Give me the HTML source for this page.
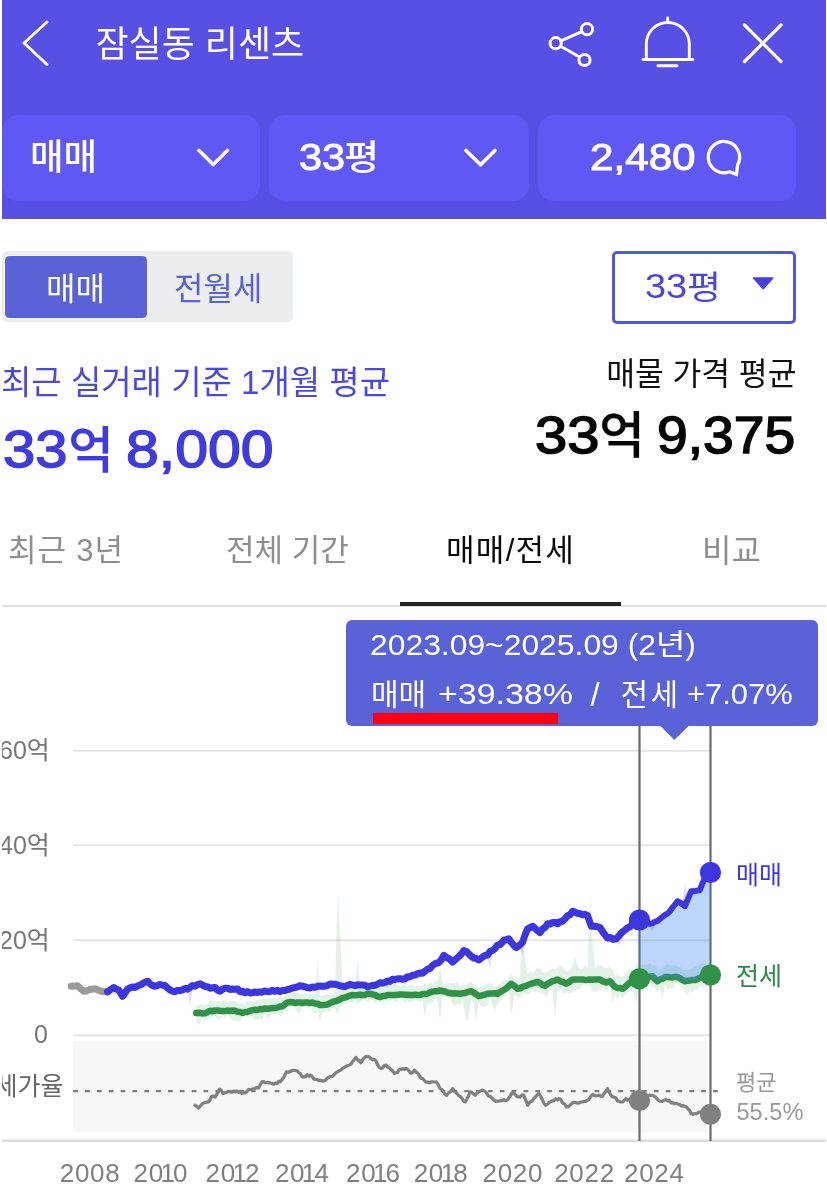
<!DOCTYPE html>
<html lang="ko">
<head>
<meta charset="utf-8">
<title>잠실동 리센츠</title>
<style>
html,body{margin:0;padding:0;background:#fff;}
body{width:827px;height:1196px;position:relative;overflow:hidden;font-family:"Liberation Sans","Noto Sans CJK KR","NanumGothic",sans-serif;}
.t{position:absolute;white-space:nowrap;line-height:1;margin:0;padding:0;}
.b{font-weight:bold;}
.m{font-weight:500;}
.sx{transform-origin:0 0;}
.grp{margin:0;padding:0;height:0;}
.xl{top:1160px;font-size:26px;color:#808080;letter-spacing:.7px;}
.one{margin:0 -2.6px 0 -3.4px;}
.abs{position:absolute;}
#hdr{left:2px;top:0;width:823.6px;height:218.6px;background:#5850e4;}
.pill{top:115px;height:86px;border-radius:16px;background:#6058f4;}
svg{position:absolute;left:0;top:0;overflow:visible;}
</style>
</head>
<body>
<!-- header -->
<div id="hdr" class="abs"></div>
<div class="abs pill" style="left:2px;width:258px"></div>
<div class="abs pill" style="left:269px;width:260px"></div>
<div class="abs pill" style="left:537.5px;width:258.5px"></div>

<div class="t" id="title" style="left:95.5px;top:26.5px;font-size:36px;color:#fff">잠실동 리센츠</div>
<div class="t m" id="p1" style="left:30px;top:139.5px;font-size:36.5px;color:#fff">매매</div>
<div class="grp"><span class="t sx" id="p2a" style="left:299px;top:139.5px;font-size:36px;color:#fff;transform:scaleX(1.15);-webkit-text-stroke:1px currentColor">33</span><span class="t m sx" id="p2b" style="left:344.3px;top:140px;font-size:35px;color:#fff;transform:scaleX(1.09)">평</span></div>
<div class="t sx" id="p3" style="left:589.5px;top:138.5px;font-size:37px;color:#fff;transform:scaleX(1.14);-webkit-text-stroke:1px currentColor">2,480</div>

<svg width="827" height="230" viewBox="0 0 827 230" fill="none" stroke="#fff" stroke-linecap="round" stroke-linejoin="round">
  <polyline points="47,22 24,43 47,64.5" stroke-width="3"/>
  <!-- share -->
  <g stroke-width="3">
    <circle cx="555.7" cy="43.2" r="5.6"/>
    <circle cx="587" cy="29.2" r="5.6"/>
    <circle cx="584.5" cy="60" r="5.6"/>
    <line x1="560.8" y1="40.8" x2="581.8" y2="31.6"/>
    <line x1="560.6" y1="46.2" x2="579.6" y2="57"/>
  </g>
  <!-- bell -->
  <g stroke-width="2.9">
    <path d="M646.3,59.5 V44 A21.5,21.5 0 0 1 689.3,44 V59.5"/>
    <line x1="643" y1="59.5" x2="692.8" y2="59.5"/>
    <line x1="667.7" y1="18" x2="667.7" y2="22"/>
    <line x1="658" y1="65.8" x2="677" y2="65.8"/>
  </g>
  <!-- close -->
  <g stroke-width="3.3">
    <line x1="744.5" y1="25" x2="781" y2="61.5"/>
    <line x1="781" y1="25" x2="744.5" y2="61.5"/>
  </g>
  <!-- chevrons -->
  <polyline points="199,150.5 213.2,164.5 227.4,150.5" stroke-width="3.6"/>
  <polyline points="466,150.5 480.5,164.8 495,150.5" stroke-width="3.6"/>
  <!-- chat bubble -->
  <path d="M737.7,164.6 A15.65,15.65 0 1 0 729.6,171.7 L736.4,174.4 Z" stroke-width="3.3" stroke-linejoin="miter"/>
</svg>

<!-- segmented tabs -->
<div class="abs" style="left:2px;top:250.5px;width:290.5px;height:71.5px;background:#ebedee;border-radius:5px"></div>
<div class="abs" style="left:4.5px;top:255.7px;width:142.4px;height:62.3px;background:#5a62d8;border-radius:4.5px;box-shadow:0 0 0 1px rgba(255,255,255,.55)"></div>
<div class="t" id="seg1" style="left:46px;top:272.5px;font-size:32px;color:#fff">매매</div>
<div class="t" id="seg2" style="left:174px;top:272.5px;font-size:32px;color:#5a62d2">전월세</div>

<!-- select -->
<div class="abs" style="left:611.5px;top:250.6px;width:184.5px;height:73.6px;box-sizing:border-box;border:3.9px solid #5058d7;border-radius:5px;background:#fff"></div>
<div class="grp"><span class="t sx" id="sela" style="left:645px;top:269px;font-size:34.5px;color:#4a45e0;transform:scaleX(1.1)">33</span><span class="t sx" id="selb" style="left:686.5px;top:270.5px;font-size:33px;color:#4a45e0;transform:scaleX(1.12)">평</span></div>
<svg width="827" height="400" viewBox="0 0 827 400"><path d="M753.6,278 H772.8 L763.2,288.6 Z" fill="#4540e0" stroke="#4540e0" stroke-width="1.6" stroke-linejoin="round"/></svg>

<!-- summary -->
<div class="t" id="lab1" style="left:1px;top:365.5px;font-size:33px;color:#4b49dc">최근 실거래 기준 1개월 평균</div>
<div class="grp"><span class="t sx" id="n1a" style="left:3px;top:423.5px;font-size:51px;color:#403be0;transform:scaleX(1.135);-webkit-text-stroke:1.45px currentColor">33</span><span class="t m" id="n1b" style="left:68.3px;top:425.5px;font-size:49.5px;color:#403be0;-webkit-text-stroke:0.25px currentColor">억</span> <span class="t sx" id="n1c" style="left:126px;top:423.5px;font-size:51px;color:#403be0;transform:scaleX(1.155);-webkit-text-stroke:1.45px currentColor">8,000</span></div>
<div class="t" id="lab2" style="left:606.3px;top:359px;font-size:31.3px;color:#111">매물 가격 평균</div>
<div class="grp"><span class="t sx" id="n2a" style="left:535px;top:410px;font-size:51px;color:#050505;transform:scaleX(1.135);-webkit-text-stroke:1.45px currentColor">33</span><span class="t m" id="n2b" style="left:599.3px;top:410.5px;font-size:49.5px;color:#050505;-webkit-text-stroke:0.25px currentColor">억</span> <span class="t sx" id="n2c" style="left:657px;top:410px;font-size:51px;color:#050505;transform:scaleX(1.083);-webkit-text-stroke:1.45px currentColor">9,375</span></div>

<!-- period tabs -->
<div class="t" id="tab1" style="left:8px;top:534.5px;font-size:31px;letter-spacing:.9px;color:#8e8e8e">최근 3년</div>
<div class="t" id="tab2" style="left:226px;top:534.5px;font-size:31px;color:#8e8e8e">전체 기간</div>
<div class="t" id="tab3" style="left:446px;top:534.5px;font-size:31px;letter-spacing:1.3px;color:#0a0a0a">매매/전세</div>
<div class="t" id="tab4" style="left:702px;top:534.5px;font-size:32px;color:#8e8e8e">비교</div>
<div class="abs" style="left:2px;top:605px;width:824px;height:2px;background:#dedede"></div>
<div class="abs" style="left:399.5px;top:602px;width:221px;height:4.3px;background:#222"></div>

<!-- chart -->
<svg width="827" height="1196" viewBox="0 0 827 1196">
  <!-- grid -->
  <g stroke="#e6e6e6" stroke-width="2">
    <line x1="73" y1="750.8" x2="711" y2="750.8"/>
    <line x1="73" y1="845.3" x2="711" y2="845.3"/>
    <line x1="73" y1="940.3" x2="711" y2="940.3"/>
    <line x1="73" y1="1035.2" x2="711" y2="1035.2"/>
  </g>
  <rect x="72.5" y="1041.3" width="635" height="91.2" fill="#f7f7f7"/>
  <line x1="2" y1="1140.7" x2="826" y2="1140.7" stroke="#dcdcdc" stroke-width="2.4"/>
  <line x1="73.2" y1="1091.1" x2="719" y2="1091.1" stroke="#7c7c7c" stroke-width="2.1" stroke-dasharray="4.7 7.15"/>
  <!-- bands -->
  <path d="M196.2,1004.9 L199.2,1004.6 L202.1,1003.7 L205.0,1006.0 L207.5,1003.9 L210.0,1000.0 L212.5,1000.5 L215.0,1001.2 L217.5,1001.3 L220.0,1001.7 L222.5,1001.1 L225.0,1000.8 L227.5,1002.5 L230.0,1000.4 L232.5,1001.0 L235.0,1001.0 L237.5,1002.9 L240.0,1003.4 L242.5,1002.6 L245.0,1004.6 L247.5,1000.8 L250.0,1001.3 L252.5,1001.3 L255.0,1001.5 L257.5,1000.3 L260.0,999.6 L262.5,998.8 L265.0,999.2 L267.5,998.3 L270.0,998.0 L272.5,998.4 L275.0,997.8 L277.5,999.2 L280.0,996.6 L282.5,998.7 L285.0,995.7 L287.5,994.2 L290.0,992.2 L292.5,993.1 L295.0,992.7 L297.5,992.1 L300.0,993.5 L302.5,994.2 L305.0,993.1 L307.5,994.6 L310.0,993.1 L312.5,995.1 L315.0,995.0 L317.5,958.5 L320.0,996.1 L322.5,995.3 L325.0,995.5 L327.5,993.9 L330.0,994.7 L332.5,994.3 L335.0,990.5 L337.5,893.0 L340.0,930.0 L342.5,991.2 L345.0,988.0 L347.5,987.2 L350.0,986.2 L352.5,985.3 L355.0,987.7 L357.5,960.0 L360.0,986.9 L362.5,985.7 L365.0,986.1 L367.5,985.6 L370.0,985.5 L372.5,984.6 L375.0,986.1 L377.5,987.9 L380.0,986.9 L382.5,988.6 L385.0,986.3 L387.5,987.1 L390.0,984.8 L392.5,984.6 L395.0,986.3 L397.5,984.2 L400.0,986.5 L402.5,985.5 L405.0,984.6 L407.5,987.0 L410.0,984.9 L412.5,984.9 L415.0,987.3 L417.5,984.9 L420.0,986.6 L422.5,985.7 L425.0,983.2 L427.5,985.9 L430.0,982.1 L432.5,983.2 L435.0,981.0 L437.5,981.1 L440.0,967.0 L442.5,982.9 L445.0,983.7 L447.5,983.1 L450.0,982.9 L452.5,982.7 L455.0,982.8 L457.5,983.1 L460.0,986.5 L462.8,985.3 L465.6,985.0 L468.4,983.2 L471.2,981.8 L473.8,984.8 L476.2,985.7 L478.8,987.8 L481.7,986.3 L484.6,986.8 L487.5,983.2 L490.0,983.6 L492.5,984.3 L495.0,986.4 L497.5,985.6 L500.6,983.2 L503.8,980.0 L506.2,980.5 L508.8,978.2 L511.2,973.0 L514.4,978.7 L517.5,980.4 L520.0,975.7 L522.5,916.0 L525.0,960.0 L527.5,974.4 L530.0,970.4 L532.5,972.9 L535.0,970.5 L537.5,967.5 L540.0,968.7 L542.5,971.9 L545.0,972.8 L547.5,971.5 L550.0,969.7 L552.5,968.3 L555.0,969.7 L557.5,966.9 L560.4,965.6 L563.3,967.3 L566.2,972.0 L569.4,970.6 L572.5,965.7 L575.0,956.0 L577.5,965.3 L580.0,968.6 L582.5,969.1 L585.0,965.1 L587.5,968.6 L590.0,895.0 L592.5,945.0 L595.0,968.5 L597.5,965.6 L600.0,964.1 L603.1,966.4 L606.2,968.1 L610.0,967.1 L612.5,969.8 L615.0,976.3 L617.5,974.3 L620.0,976.5 L622.5,977.1 L625.0,972.3 L627.5,972.3 L630.0,970.3 L633.2,970.4 L636.3,964.5 L639.5,964.5 L642.1,965.3 L644.7,964.9 L647.3,965.3 L649.9,962.8 L652.5,966.2 L655.0,964.8 L657.5,969.5 L660.0,969.3 L662.5,967.9 L665.0,965.9 L667.5,964.1 L670.0,966.0 L672.5,965.4 L675.0,964.6 L677.5,966.4 L680.0,966.5 L682.5,969.4 L685.0,970.1 L687.5,970.6 L690.0,968.7 L692.5,968.5 L695.0,966.5 L697.5,966.8 L700.0,963.8 L702.5,963.1 L705.2,964.0 L707.8,964.7 L710.5,962.2 L710.5,988.1 L707.8,986.4 L705.2,982.4 L702.5,989.4 L700.0,985.6 L697.5,989.7 L695.0,989.5 L692.5,992.3 L690.0,990.5 L687.5,994.4 L685.0,992.7 L682.5,987.6 L680.0,986.4 L677.5,981.7 L675.0,983.9 L672.5,989.2 L670.0,987.8 L667.5,990.1 L665.0,983.6 L662.5,1000.0 L660.0,986.7 L657.5,992.2 L655.0,987.9 L652.5,987.5 L649.9,982.6 L647.3,987.5 L644.7,986.9 L642.1,989.6 L639.5,984.7 L636.3,1003.0 L633.2,990.3 L630.0,990.8 L627.5,992.7 L625.0,994.7 L622.5,998.8 L620.0,994.3 L617.5,999.5 L615.0,994.4 L612.5,1004.0 L610.0,986.7 L606.2,991.6 L603.1,985.8 L600.0,989.2 L597.5,991.5 L595.0,991.6 L592.5,991.6 L590.0,985.6 L587.5,984.9 L585.0,984.4 L582.5,985.3 L580.0,989.3 L577.5,989.1 L575.0,990.0 L572.5,992.0 L569.4,993.4 L566.2,992.4 L563.3,994.0 L560.4,988.8 L557.5,991.9 L555.0,1017.5 L552.5,992.3 L550.0,989.2 L547.5,994.9 L545.0,996.6 L542.5,992.4 L540.0,993.4 L537.5,989.9 L535.0,992.8 L532.5,989.8 L530.0,992.5 L527.5,994.9 L525.0,993.7 L522.5,994.8 L520.0,998.2 L517.5,996.1 L514.4,995.3 L511.2,1016.0 L508.8,990.9 L506.2,993.6 L503.8,994.5 L500.6,1000.6 L497.5,1003.0 L495.0,1010.0 L492.5,1006.0 L490.0,998.3 L487.5,1005.5 L484.6,1006.2 L481.7,1007.3 L478.8,1002.5 L476.2,1021.0 L473.8,1005.2 L471.2,998.8 L468.4,1020.0 L465.6,1020.0 L462.8,1000.3 L460.0,1005.0 L457.5,1003.3 L455.0,1005.9 L452.5,1003.9 L450.0,997.9 L447.5,997.9 L445.0,995.7 L442.5,997.0 L440.0,1020.0 L437.5,1000.4 L435.0,996.6 L432.5,1002.2 L430.0,1002.9 L427.5,1003.2 L425.0,1017.0 L422.5,1000.7 L420.0,1001.4 L417.5,1000.4 L415.0,1000.5 L412.5,1000.9 L410.0,1003.0 L407.5,1000.3 L405.0,1004.1 L402.5,999.5 L400.0,998.8 L397.5,1001.3 L395.0,1002.8 L392.5,999.6 L390.0,1001.6 L387.5,1001.3 L385.0,1000.2 L382.5,1003.0 L380.0,1002.2 L377.5,1001.2 L375.0,1004.0 L372.5,998.3 L370.0,999.9 L367.5,1001.8 L365.0,1000.3 L362.5,1000.7 L360.0,1001.7 L357.5,1005.2 L355.0,998.9 L352.5,1003.7 L350.0,1001.8 L347.5,1003.4 L345.0,1001.4 L342.5,1006.2 L340.0,1006.9 L337.5,1015.0 L335.0,1008.4 L332.5,1007.9 L330.0,1012.0 L327.5,1011.5 L325.0,1012.5 L322.5,1012.5 L320.0,1022.0 L317.5,1010.3 L315.0,1013.5 L312.5,1012.1 L310.0,1007.1 L307.5,1008.9 L305.0,1006.2 L302.5,1006.5 L300.0,1013.0 L297.5,1012.9 L295.0,1008.3 L292.5,1006.3 L290.0,1006.3 L287.5,1011.4 L285.0,1008.9 L282.5,1015.4 L280.0,1017.3 L277.5,1011.4 L275.0,1015.5 L272.5,1013.2 L270.0,1015.9 L267.5,1018.9 L265.0,1013.5 L262.5,1019.5 L260.0,1019.3 L257.5,1019.5 L255.0,1020.0 L252.5,1016.6 L250.0,1016.4 L247.5,1018.1 L245.0,1014.0 L242.5,1017.2 L240.0,1022.3 L237.5,1020.6 L235.0,1020.7 L232.5,1020.4 L230.0,1017.6 L227.5,1014.5 L225.0,1018.4 L222.5,1014.7 L220.0,1019.4 L217.5,1020.3 L215.0,1015.3 L212.5,1017.6 L210.0,1017.5 L207.5,1017.1 L205.0,1022.6 L202.1,1017.1 L199.2,1025.0 L196.2,1020.3Z" fill="#2e9548" fill-opacity="0.13"/>
  <path d="M107.5,990.2 L110.6,987.9 L113.8,985.9 L116.2,987.5 L118.8,988.2 L122.5,994.5 L125.0,991.3 L127.5,987.7 L130.0,987.5 L132.5,986.7 L135.0,985.8 L138.1,984.3 L141.2,982.9 L144.4,981.7 L147.5,979.9 L150.6,982.0 L153.8,984.9 L156.9,983.9 L160.0,983.2 L162.5,983.4 L165.0,983.8 L167.5,986.3 L170.0,988.7 L172.5,989.5 L175.0,990.5 L177.5,989.8 L180.0,988.9 L182.5,988.6 L185.0,987.5 L187.5,986.5 L190.0,985.9 L192.5,985.3 L195.0,984.1 L197.5,983.3 L200.0,983.4 L202.5,983.7 L205.0,984.3 L207.5,985.8 L210.0,986.7 L212.5,986.6 L215.0,985.8 L217.5,988.2 L220.0,990.0 L222.5,988.7 L225.0,987.8 L227.5,986.7 L230.0,987.2 L232.5,987.7 L235.0,987.6 L237.5,988.6 L240.0,988.8 L242.5,989.8 L245.0,990.3 L247.5,990.9 L250.0,991.8 L252.5,991.6 L255.0,991.0 L257.5,990.9 L260.6,990.6 L263.7,990.6 L266.8,990.2 L269.5,990.0 L272.2,989.5 L275.0,989.5 L277.5,989.6 L280.0,989.4 L282.5,989.2 L285.0,989.1 L287.5,987.9 L290.0,987.3 L292.5,986.7 L295.0,985.9 L297.5,985.7 L300.0,985.0 L302.5,984.7 L305.0,985.0 L307.5,985.3 L310.0,985.2 L312.5,985.6 L315.0,985.2 L317.5,985.4 L320.0,985.1 L322.5,984.8 L325.0,984.2 L327.5,983.8 L330.0,983.1 L332.5,982.8 L335.0,983.0 L337.5,983.5 L340.0,984.2 L342.5,985.0 L345.0,984.2 L347.5,984.0 L350.0,983.7 L352.5,983.3 L355.0,983.4 L357.5,983.4 L360.0,983.4 L362.5,983.8 L365.0,984.4 L367.5,985.4 L370.0,984.5 L372.5,984.0 L375.0,983.6 L377.5,982.9 L380.0,982.4 L382.5,979.6 L385.0,978.8 L387.5,978.6 L390.0,978.2 L392.5,977.1 L395.0,976.5 L397.5,976.0 L400.0,975.5 L402.5,975.4 L405.0,975.1 L407.5,973.9 L410.0,972.9 L412.5,972.6 L415.0,971.4 L417.5,969.9 L420.0,969.5 L422.5,968.1 L425.0,968.3 L427.5,965.7 L430.0,963.7 L432.5,962.2 L435.6,960.9 L438.8,958.3 L441.2,954.9 L443.8,951.9 L446.7,953.5 L449.6,956.5 L452.5,957.8 L456.2,955.5 L458.8,953.0 L461.2,949.8 L463.8,946.6 L466.2,949.6 L468.8,951.2 L471.2,952.4 L473.8,954.3 L476.2,954.6 L478.8,956.3 L481.7,954.6 L484.6,952.8 L487.5,951.1 L490.0,949.0 L492.5,946.8 L495.0,944.0 L497.5,941.2 L500.3,940.6 L503.1,938.4 L505.9,936.3 L508.8,935.9 L511.2,938.3 L513.8,940.8 L516.2,944.0 L519.4,941.7 L522.5,938.5 L525.0,932.4 L527.5,925.9 L530.0,923.7 L532.5,923.0 L535.0,924.3 L537.5,926.9 L540.0,929.0 L542.5,926.6 L545.0,922.7 L547.5,920.6 L550.0,919.2 L552.5,919.7 L555.0,919.0 L557.5,920.0 L560.0,918.1 L562.5,916.7 L565.0,915.0 L567.5,913.0 L570.0,910.7 L572.5,907.9 L575.0,908.4 L577.5,910.0 L580.0,910.8 L582.5,910.7 L585.0,910.9 L587.5,912.1 L591.2,922.6 L594.2,922.6 L597.1,924.2 L600.0,924.5 L602.5,927.5 L605.0,930.9 L607.5,934.8 L610.4,935.1 L613.3,935.0 L616.2,935.6 L619.2,932.0 L622.1,929.1 L625.0,927.1 L627.5,925.0 L630.0,922.2 L632.5,919.7 L636.0,918.6 L639.5,917.2 L642.1,918.1 L644.8,917.7 L647.4,919.7 L650.0,919.6 L652.5,919.0 L655.0,918.4 L657.5,918.1 L660.0,915.6 L662.5,913.9 L665.0,911.3 L667.5,909.3 L670.0,907.3 L672.5,904.3 L675.0,900.7 L677.5,898.3 L680.0,899.8 L682.5,900.5 L685.0,885.0 L688.1,895.3 L691.2,887.6 L694.2,887.4 L697.1,887.4 L700.0,886.7 L702.5,879.7 L705.0,874.3 L707.8,872.0 L710.5,869.4 L710.5,876.4 L707.8,878.1 L705.0,880.6 L702.5,886.4 L700.0,893.5 L697.1,893.1 L694.2,893.2 L691.2,895.0 L688.1,904.3 L685.0,908.3 L682.5,908.5 L680.0,905.1 L677.5,903.4 L675.0,908.2 L672.5,912.2 L670.0,915.3 L667.5,917.0 L665.0,919.8 L662.5,919.8 L660.0,922.6 L657.5,924.6 L655.0,925.5 L652.5,932.0 L650.0,928.4 L647.4,925.3 L644.8,926.6 L642.1,923.5 L639.5,924.9 L636.0,927.1 L632.5,927.7 L630.0,928.8 L627.5,930.4 L625.0,934.7 L622.1,937.5 L619.2,945.0 L616.2,942.2 L613.3,941.0 L610.4,943.3 L607.5,942.2 L605.0,939.0 L602.5,936.6 L600.0,932.0 L597.1,931.9 L594.2,930.2 L591.2,930.2 L587.5,918.8 L585.0,917.5 L582.5,919.3 L580.0,916.0 L577.5,916.4 L575.0,914.3 L572.5,913.9 L570.0,918.2 L567.5,921.9 L565.0,921.3 L562.5,926.2 L560.0,925.0 L557.5,925.9 L555.0,929.1 L552.5,927.4 L550.0,927.8 L547.5,929.0 L545.0,928.9 L542.5,933.9 L540.0,935.8 L537.5,934.6 L535.0,930.9 L532.5,931.4 L530.0,931.2 L527.5,934.1 L525.0,940.9 L522.5,954.0 L519.4,948.6 L516.2,953.1 L513.8,949.1 L511.2,946.0 L508.8,943.9 L505.9,944.5 L503.1,947.5 L500.3,946.4 L497.5,949.4 L495.0,950.9 L492.5,954.1 L490.0,968.0 L487.5,958.2 L484.6,959.1 L481.7,962.7 L478.8,963.9 L476.2,961.9 L473.8,960.1 L471.2,959.2 L468.8,960.1 L466.2,956.5 L463.8,955.8 L461.2,956.4 L458.8,960.5 L456.2,962.7 L452.5,966.0 L449.6,963.1 L446.7,961.7 L443.8,958.5 L441.2,964.7 L438.8,966.0 L435.6,967.2 L432.5,969.2 L430.0,973.0 L427.5,971.9 L425.0,975.5 L422.5,974.2 L420.0,976.5 L417.5,979.9 L415.0,979.3 L412.5,978.5 L410.0,981.4 L407.5,981.5 L405.0,984.6 L402.5,982.3 L400.0,981.5 L397.5,981.5 L395.0,987.0 L392.5,983.9 L390.0,984.6 L387.5,987.4 L385.0,986.9 L382.5,986.6 L380.0,984.5 L377.5,985.3 L375.0,985.8 L372.5,986.6 L370.0,986.9 L367.5,988.5 L365.0,987.6 L362.5,986.0 L360.0,986.8 L357.5,986.9 L355.0,986.4 L352.5,986.6 L350.0,986.3 L347.5,987.5 L345.0,987.4 L342.5,988.3 L340.0,987.3 L337.5,987.4 L335.0,986.5 L332.5,986.3 L330.0,986.7 L327.5,987.0 L325.0,987.7 L322.5,988.2 L320.0,988.2 L317.5,988.2 L315.0,988.4 L312.5,989.2 L310.0,988.6 L307.5,988.1 L305.0,988.2 L302.5,988.1 L300.0,988.5 L297.5,989.1 L295.0,989.6 L292.5,989.2 L290.0,990.1 L287.5,991.4 L285.0,992.7 L282.5,991.7 L280.0,992.1 L277.5,992.9 L275.0,992.7 L272.2,993.4 L269.5,992.8 L266.8,993.5 L263.7,993.2 L260.6,994.1 L257.5,994.7 L255.0,993.6 L252.5,994.3 L250.0,995.1 L247.5,993.8 L245.0,993.8 L242.5,992.4 L240.0,992.1 L237.5,990.7 L235.0,991.5 L232.5,989.9 L230.0,989.6 L227.5,989.5 L225.0,991.4 L222.5,992.4 L220.0,992.5 L217.5,991.5 L215.0,989.5 L212.5,989.7 L210.0,990.2 L207.5,988.4 L205.0,988.2 L202.5,986.9 L200.0,986.9 L197.5,985.3 L195.0,987.1 L192.5,988.4 L190.0,1007.0 L187.5,989.1 L185.0,990.0 L182.5,991.5 L180.0,992.1 L177.5,992.4 L175.0,993.5 L172.5,992.5 L170.0,990.8 L167.5,988.7 L165.0,986.7 L162.5,987.2 L160.0,986.7 L156.9,987.1 L153.8,988.4 L150.6,985.8 L147.5,982.3 L144.4,984.9 L141.2,985.4 L138.1,987.0 L135.0,988.5 L132.5,990.2 L130.0,989.7 L127.5,990.9 L125.0,993.9 L122.5,997.2 L118.8,991.7 L116.2,990.2 L113.8,989.6 L110.6,991.8 L107.5,993.6Z" fill="#3a36e0" fill-opacity="0.16"/>
  <!-- vertical selection lines -->
  <line x1="639.5" y1="724" x2="639.5" y2="1141" stroke="#6a6a6a" stroke-width="2.2"/>
  <line x1="710.5" y1="724" x2="710.5" y2="1141" stroke="#6a6a6a" stroke-width="2.2"/>
  <!-- lines -->
  <g fill="none" stroke-linecap="round" stroke-linejoin="round">
    <path d="M195.1,1105.3 L196.8,1106.3 L198.4,1108.0 L200.1,1106.3 L201.7,1104.5 L203.4,1103.0 L205.1,1102.5 L206.8,1102.1 L208.5,1102.0 L210.2,1099.5 L211.8,1096.3 L213.5,1096.1 L215.2,1097.0 L217.3,1093.4 L219.5,1089.2 L221.2,1090.3 L222.9,1093.6 L224.7,1092.7 L226.6,1092.4 L228.4,1091.5 L230.2,1091.9 L231.9,1092.2 L233.6,1091.0 L235.2,1091.8 L236.9,1090.9 L238.6,1092.4 L240.2,1091.4 L241.9,1093.3 L243.6,1092.9 L245.3,1092.8 L246.9,1091.6 L248.6,1089.4 L250.3,1089.6 L252.0,1089.2 L253.7,1089.2 L255.3,1088.1 L257.0,1087.6 L258.7,1087.9 L260.4,1084.5 L262.0,1081.9 L263.7,1081.6 L265.4,1083.0 L267.0,1082.3 L268.7,1082.9 L270.4,1082.9 L272.1,1083.5 L273.7,1084.2 L275.4,1082.9 L277.1,1083.5 L278.8,1081.2 L280.4,1081.9 L282.1,1079.5 L284.3,1076.4 L286.5,1071.8 L288.3,1072.3 L290.1,1071.5 L291.9,1070.7 L293.6,1070.4 L295.4,1070.5 L297.2,1070.8 L298.9,1072.7 L300.5,1073.8 L302.2,1076.8 L303.9,1076.9 L305.6,1076.7 L307.2,1074.8 L308.9,1076.3 L310.6,1075.2 L312.3,1076.6 L313.9,1079.0 L315.6,1079.5 L317.3,1079.7 L319.0,1080.7 L320.6,1080.2 L322.3,1080.9 L324.0,1080.9 L325.7,1080.0 L327.4,1078.0 L329.0,1077.3 L330.7,1076.6 L332.4,1076.2 L334.1,1074.5 L335.7,1073.0 L337.4,1071.8 L339.1,1070.8 L340.8,1070.0 L342.4,1068.4 L344.1,1067.5 L345.8,1066.3 L347.4,1065.9 L349.1,1065.1 L350.8,1064.2 L352.5,1061.9 L354.1,1059.7 L355.8,1057.4 L357.5,1059.9 L359.1,1060.4 L360.8,1062.8 L362.5,1059.9 L364.2,1057.8 L365.9,1056.7 L367.6,1056.4 L369.2,1056.7 L370.9,1058.6 L372.5,1059.8 L374.2,1059.4 L375.9,1060.8 L377.5,1064.4 L379.2,1067.2 L380.9,1068.5 L382.6,1068.0 L384.3,1065.5 L386.0,1065.1 L387.7,1067.1 L389.3,1067.9 L391.0,1069.4 L392.6,1070.7 L394.3,1073.5 L396.0,1072.6 L397.6,1072.4 L399.3,1069.6 L401.0,1069.5 L402.7,1068.7 L404.4,1069.3 L406.0,1068.5 L407.7,1069.5 L409.4,1071.4 L411.1,1073.5 L412.8,1072.3 L414.4,1070.1 L416.1,1072.1 L417.8,1073.3 L419.4,1075.4 L421.1,1078.5 L422.8,1078.7 L424.5,1080.6 L426.1,1082.1 L427.8,1082.0 L429.5,1082.9 L431.2,1081.8 L432.9,1081.8 L434.5,1082.0 L436.2,1081.9 L438.1,1084.4 L440.0,1088.6 L441.7,1089.4 L443.4,1091.8 L445.0,1094.4 L446.7,1095.3 L448.7,1092.5 L450.7,1091.7 L452.7,1088.6 L454.6,1091.7 L456.5,1092.9 L458.4,1095.3 L460.1,1096.4 L461.8,1098.0 L463.4,1100.7 L465.1,1102.0 L466.8,1099.3 L468.4,1096.1 L470.1,1091.9 L471.8,1092.4 L473.5,1094.0 L475.2,1095.3 L476.9,1093.0 L478.5,1092.3 L480.2,1091.0 L481.9,1090.2 L483.6,1090.5 L485.2,1091.5 L486.9,1093.6 L488.6,1096.2 L490.3,1096.3 L491.9,1098.2 L493.6,1099.8 L495.3,1101.3 L497.0,1101.1 L498.6,1101.2 L500.3,1100.9 L502.0,1100.7 L503.7,1099.7 L505.3,1100.7 L507.0,1100.3 L508.7,1098.2 L510.3,1095.9 L512.0,1092.9 L513.7,1093.5 L515.4,1094.8 L517.0,1096.6 L518.7,1096.9 L520.4,1096.9 L522.0,1094.8 L523.7,1095.3 L525.7,1099.9 L527.7,1105.3 L529.7,1102.3 L531.8,1101.3 L533.8,1098.6 L535.5,1096.7 L537.1,1095.0 L538.8,1093.6 L540.5,1095.9 L542.1,1099.3 L543.8,1102.9 L545.5,1105.3 L547.2,1104.5 L548.9,1102.5 L550.5,1101.8 L552.2,1101.0 L553.9,1100.7 L555.5,1098.8 L557.2,1100.1 L558.9,1098.6 L560.8,1099.7 L562.8,1103.1 L564.7,1104.1 L566.6,1107.0 L568.5,1106.7 L570.4,1104.8 L572.3,1103.0 L574.0,1102.2 L575.7,1102.6 L577.3,1103.2 L579.0,1103.0 L580.7,1102.0 L582.4,1101.9 L584.0,1101.5 L585.7,1101.3 L587.4,1100.3 L589.1,1099.3 L590.7,1096.5 L592.4,1094.6 L594.1,1095.1 L595.7,1095.8 L597.4,1095.5 L599.1,1095.1 L600.7,1096.2 L602.4,1096.3 L604.1,1093.4 L605.7,1091.6 L607.4,1088.6 L609.1,1091.9 L610.8,1095.0 L612.5,1096.9 L614.2,1097.1 L615.8,1097.9 L617.5,1100.9 L619.1,1101.5 L620.8,1102.0 L622.5,1102.0 L624.2,1100.4 L625.9,1098.6 L627.6,1100.3 L629.2,1099.2 L630.9,1099.9 L632.6,1101.3 L634.3,1101.3 L636.0,1101.5 L637.8,1099.9 L639.5,1100.5 L641.1,1100.7 L642.8,1098.4 L644.4,1097.6 L646.1,1097.4 L647.7,1096.1 L649.4,1095.1 L651.0,1095.3 L652.7,1095.4 L654.3,1096.3 L656.0,1097.5 L657.7,1099.7 L659.3,1100.9 L661.0,1101.3 L662.7,1101.3 L664.3,1100.0 L666.0,1099.6 L667.7,1101.0 L669.4,1100.4 L671.0,1102.8 L672.7,1102.6 L674.4,1103.6 L676.1,1103.2 L677.8,1104.2 L679.5,1104.3 L681.1,1105.9 L682.8,1105.6 L684.5,1106.3 L686.2,1106.8 L687.8,1108.8 L689.5,1110.2 L691.1,1113.7 L692.8,1114.3 L694.5,1113.5 L696.1,1113.8 L697.8,1112.8 L699.5,1112.0 L701.3,1112.2 L703.2,1113.3 L705.0,1113.3 L706.8,1112.5 L708.7,1115.0 L710.5,1114.3" stroke="#808080" stroke-width="3.2"/>
    <path d="M196.2,1013.0 L199.2,1012.7 L202.1,1013.4 L205.0,1013.2 L207.5,1012.2 L210.0,1010.8 L212.5,1011.2 L215.0,1010.5 L217.5,1010.5 L220.0,1010.8 L222.5,1011.0 L225.0,1010.9 L227.5,1010.6 L230.0,1010.9 L232.5,1010.6 L235.0,1010.8 L237.5,1011.8 L240.0,1011.9 L242.5,1013.0 L245.0,1012.0 L247.5,1011.9 L250.0,1010.8 L252.5,1010.2 L255.0,1009.8 L257.5,1009.9 L260.0,1009.2 L262.5,1009.2 L265.0,1008.5 L267.5,1008.7 L270.0,1008.6 L272.5,1007.9 L275.0,1008.0 L277.5,1007.6 L280.0,1006.5 L282.5,1006.2 L285.0,1004.2 L287.5,1002.5 L290.0,1002.1 L292.5,1002.2 L295.0,1003.0 L297.5,1002.4 L300.0,1002.5 L302.5,1003.0 L305.0,1002.4 L307.5,1002.6 L310.0,1002.9 L312.5,1002.5 L315.0,1003.5 L317.5,1003.8 L320.0,1005.0 L322.5,1004.9 L325.0,1004.8 L327.5,1004.5 L330.0,1003.1 L332.5,1001.9 L335.0,1001.2 L337.5,1000.7 L340.0,999.4 L342.5,998.1 L345.0,997.5 L347.5,996.6 L350.0,995.6 L352.5,995.0 L355.0,995.3 L357.5,995.0 L360.0,994.6 L362.5,995.0 L365.0,994.9 L367.5,993.8 L370.0,993.8 L372.5,994.3 L375.0,994.9 L377.5,996.4 L380.0,997.0 L382.5,996.1 L385.0,996.0 L387.5,995.1 L390.0,995.0 L392.5,994.9 L395.0,994.9 L397.5,994.7 L400.0,994.5 L402.5,994.6 L405.0,994.7 L407.5,994.8 L410.0,995.0 L412.5,995.1 L415.0,994.6 L417.5,995.0 L420.0,995.0 L422.5,994.1 L425.0,994.1 L427.5,993.6 L430.0,992.5 L432.5,991.6 L435.0,991.1 L437.5,991.2 L440.0,990.5 L442.5,991.2 L445.0,991.3 L447.5,992.6 L450.0,993.0 L452.5,993.6 L455.0,993.3 L457.5,993.4 L460.0,993.8 L462.8,993.2 L465.6,992.9 L468.4,991.6 L471.2,991.2 L473.8,992.7 L476.2,994.3 L478.8,996.2 L481.7,995.5 L484.6,994.6 L487.5,993.8 L490.0,993.5 L492.5,993.6 L495.0,993.3 L497.5,993.8 L500.6,991.7 L503.8,990.0 L506.2,988.4 L508.8,985.9 L511.2,983.8 L514.4,986.0 L517.5,988.8 L520.0,988.4 L522.5,986.9 L525.0,986.2 L527.5,985.2 L530.0,984.1 L532.5,983.3 L535.0,982.5 L537.5,982.0 L540.0,983.0 L542.5,984.9 L545.0,985.8 L547.5,983.9 L550.0,982.5 L552.5,981.2 L555.0,980.6 L557.5,979.5 L560.4,981.3 L563.3,982.1 L566.2,983.8 L569.4,981.9 L572.5,979.5 L575.0,979.4 L577.5,979.6 L580.0,979.6 L582.5,979.5 L585.0,979.9 L587.5,979.8 L590.0,979.5 L592.5,979.8 L595.0,979.4 L597.5,979.4 L600.0,979.5 L603.1,981.5 L606.2,982.5 L610.0,981.2 L612.5,984.2 L615.0,987.0 L617.5,987.9 L620.0,988.0 L622.5,988.8 L625.0,987.1 L627.5,984.7 L630.0,982.5 L633.2,981.0 L636.3,980.4 L639.5,978.8" stroke="#2f9247" stroke-width="6.5"/>
    <path d="M639.5,978.8 L642.1,978.6 L644.7,977.4 L647.3,977.4 L649.9,976.5 L652.5,976.2 L655.0,979.1 L657.5,981.2 L660.0,979.4 L662.5,978.7 L665.0,977.0 L667.5,977.1 L670.0,977.3 L672.5,977.4 L675.0,976.8 L677.5,977.0 L680.0,978.3 L682.5,980.0 L685.0,981.2 L687.5,980.8 L690.0,980.4 L692.5,980.1 L695.0,980.0 L697.5,979.0 L700.0,977.8 L702.5,976.2 L705.2,976.1 L707.8,975.2 L710.5,975.0" stroke="#2f9247" stroke-width="6.5"/>
  </g>
  <!-- selected fill -->
  <path d="M639.5,920.0 L642.1,920.6 L644.8,922.1 L647.4,923.1 L650.0,923.8 L652.5,923.4 L655.0,921.6 L657.5,921.2 L660.0,918.9 L662.5,916.8 L665.0,914.9 L667.5,913.6 L670.0,911.2 L672.5,907.4 L675.0,904.6 L677.5,901.2 L680.0,902.5 L682.5,904.3 L685.0,906.2 L688.1,898.7 L691.2,891.2 L694.2,891.3 L697.1,890.6 L700.0,890.0 L702.5,883.1 L705.0,877.5 L707.8,874.7 L710.5,872.5 L710.5,975.0 L707.8,975.2 L705.2,976.1 L702.5,976.2 L700.0,977.8 L697.5,979.0 L695.0,980.0 L692.5,980.1 L690.0,980.4 L687.5,980.8 L685.0,981.2 L682.5,980.0 L680.0,978.3 L677.5,977.0 L675.0,976.8 L672.5,977.4 L670.0,977.3 L667.5,977.1 L665.0,977.0 L662.5,978.7 L660.0,979.4 L657.5,981.2 L655.0,979.1 L652.5,976.2 L649.9,976.5 L647.3,977.4 L644.7,977.4 L642.1,978.6 L639.5,978.8Z" fill="#4285f4" fill-opacity="0.35"/>
  <g fill="none" stroke-linecap="round" stroke-linejoin="round">
    <path d="M71.2,986.2 L74.4,986.0 L77.5,985.8 L80.6,988.6 L83.8,991.2 L86.2,991.0 L88.8,989.9 L91.2,989.2 L95.0,988.8 L98.1,990.0 L101.2,991.2 L104.4,991.6 L107.5,991.8" stroke="#9a9a9a" stroke-width="7"/>
    <path d="M107.5,991.8 L110.6,989.6 L113.8,987.5 L116.2,989.1 L118.8,990.0 L122.5,996.2 L125.0,993.1 L127.5,989.2 L130.0,987.9 L132.5,987.0 L135.0,987.5 L138.1,985.7 L141.2,984.5 L144.4,982.4 L147.5,981.2 L150.6,984.4 L153.8,986.2 L156.9,985.8 L160.0,984.5 L162.5,985.2 L165.0,985.5 L167.5,987.9 L170.0,990.0 L172.5,991.2 L175.0,991.8 L177.5,990.4 L180.0,990.5 L182.5,990.0 L185.0,988.4 L187.5,989.2 L190.0,987.5 L192.5,985.5 L195.0,986.2 L197.5,984.5 L200.0,983.8 L202.5,985.0 L205.0,986.5 L207.5,986.8 L210.0,988.2 L212.5,987.7 L215.0,987.5 L217.5,990.1 L220.0,991.2 L222.5,989.2 L225.0,988.3 L227.5,988.2 L230.0,989.5 L232.5,988.9 L235.0,989.2 L237.5,989.0 L240.0,991.7 L242.5,991.2 L245.0,992.8 L247.5,991.6 L250.0,993.0 L252.5,992.7 L255.0,991.9 L257.5,992.5 L259.8,991.8 L262.1,992.3 L264.4,991.0 L266.8,991.5 L269.5,991.8 L272.2,990.3 L275.0,991.2 L277.5,990.3 L280.0,991.6 L282.5,990.5 L285.0,990.5 L287.5,989.5 L290.0,989.0 L292.5,988.0 L295.0,987.5 L297.5,986.9 L300.0,985.7 L302.5,986.2 L305.0,986.9 L307.5,987.7 L310.0,987.9 L312.5,987.0 L315.0,987.2 L317.5,986.3 L320.0,986.1 L322.5,986.2 L325.0,986.2 L327.5,985.6 L330.0,983.9 L332.5,984.2 L335.0,984.2 L337.5,984.9 L340.0,985.8 L342.5,986.2 L345.0,986.6 L347.5,985.6 L350.0,984.3 L352.5,985.0 L355.0,985.7 L357.5,984.8 L360.0,985.0 L362.5,985.0 L365.0,985.3 L367.5,986.8 L370.0,986.0 L372.5,985.3 L375.0,985.5 L377.5,984.2 L380.0,982.8 L382.5,983.2 L385.0,982.5 L387.5,981.0 L390.0,981.4 L392.5,979.2 L395.0,979.5 L397.5,978.8 L400.0,978.8 L402.5,979.2 L405.0,978.8 L407.5,976.8 L410.0,976.8 L412.5,975.3 L415.0,975.0 L417.5,973.6 L420.0,973.1 L422.5,973.2 L425.0,971.2 L427.5,969.3 L430.0,968.4 L432.5,965.5 L435.6,963.3 L438.8,962.5 L441.2,959.9 L443.8,955.5 L446.7,957.4 L449.6,959.1 L452.5,962.0 L456.2,958.8 L458.8,956.5 L461.2,954.2 L463.8,950.5 L466.2,951.3 L468.8,953.8 L471.2,956.2 L473.8,958.1 L476.2,958.4 L478.8,960.0 L481.7,957.8 L484.6,955.6 L487.5,955.0 L490.0,951.5 L492.5,950.3 L495.0,948.6 L497.5,945.0 L499.8,944.8 L502.0,942.5 L504.2,940.2 L506.5,939.6 L508.8,938.8 L511.2,942.3 L513.8,945.3 L516.2,947.5 L519.4,945.3 L522.5,942.5 L525.0,935.0 L527.5,928.8 L530.0,927.6 L532.5,926.2 L535.0,928.3 L537.5,930.7 L540.0,932.5 L542.5,929.1 L545.0,927.6 L547.5,923.8 L550.0,924.0 L552.5,922.5 L555.0,922.4 L557.5,923.8 L560.0,921.6 L562.5,921.2 L565.0,918.8 L567.5,915.8 L570.0,914.7 L572.5,911.2 L575.0,912.1 L577.5,913.3 L580.0,913.8 L582.5,914.8 L585.0,914.3 L587.5,915.5 L591.2,926.2 L594.2,926.2 L597.1,926.5 L600.0,927.5 L602.5,931.4 L605.0,934.9 L607.5,938.0 L610.4,937.4 L613.3,939.4 L616.2,938.8 L619.2,935.7 L622.1,932.3 L625.0,930.0 L627.5,927.8 L630.0,926.9 L632.5,923.8 L634.8,922.6 L637.2,921.5 L639.5,920.0" stroke="#3b36e0" stroke-width="7"/>
    <path d="M639.5,920.0 L642.1,920.6 L644.8,922.1 L647.4,923.1 L650.0,923.8 L652.5,923.4 L655.0,921.6 L657.5,921.2 L660.0,918.9 L662.5,916.8 L665.0,914.9 L667.5,913.6 L670.0,911.2 L672.5,907.4 L675.0,904.6 L677.5,901.2 L680.0,902.5 L682.5,904.3 L685.0,906.2 L688.1,898.7 L691.2,891.2 L694.2,891.3 L697.1,890.6 L700.0,890.0 L702.5,883.1 L705.0,877.5 L707.8,874.7 L710.5,872.5" stroke="#3b36e0" stroke-width="5.9"/>
  </g>
  <!-- dots -->
  <g>
    <circle cx="639.5" cy="920" r="10.6" fill="#3b36e0"/>
    <circle cx="710.5" cy="872.5" r="10.6" fill="#3b36e0"/>
    <circle cx="639.5" cy="978.8" r="10.6" fill="#2f9247"/>
    <circle cx="710.5" cy="975" r="10.6" fill="#2f9247"/>
    <circle cx="639.5" cy="1100.5" r="10.6" fill="#808080"/>
    <circle cx="710.5" cy="1114.3" r="10.6" fill="#808080"/>
  </g>
</svg>

<!-- axis labels -->
<div class="t" id="y60" style="left:-1px;top:738px;font-size:25px;color:#777">60억</div>
<div class="t" id="y40" style="left:-1px;top:833px;font-size:25px;color:#777">40억</div>
<div class="t" id="y20" style="left:-1px;top:928px;font-size:25px;color:#777">20억</div>
<div class="t" id="y0" style="left:34px;top:1022px;font-size:25px;color:#777">0</div>
<div class="t" id="yr" style="left:-28.4px;top:1074px;font-size:25px;color:#666">전세가율</div>

<div class="t xl" id="x1" style="left:59.8px">2008</div>
<div class="t xl" id="x2" style="left:133.5px">20<span class="one">1</span>0</div>
<div class="t xl" id="x3" style="left:205.5px">20<span class="one">1</span>2</div>
<div class="t xl" id="x4" style="left:274.9px">20<span class="one">1</span>4</div>
<div class="t xl" id="x5" style="left:346.0px">20<span class="one">1</span>6</div>
<div class="t xl" id="x6" style="left:413.7px">20<span class="one">1</span>8</div>
<div class="t xl" id="x7" style="left:482.5px">2020</div>
<div class="t xl" id="x8" style="left:554.2px">2022</div>
<div class="t xl" id="x9" style="left:624.0px">2024</div>

<div class="t" id="lg1" style="left:736px;top:863px;font-size:25px;color:#3d38e0">매매</div>
<div class="t" id="lg2" style="left:736px;top:963.5px;font-size:25px;color:#2e8b47">전세</div>
<div class="t" id="lg3" style="left:736px;top:1072px;font-size:22px;color:#999">평균</div>
<div class="t" id="lg4" style="left:736.5px;top:1101px;font-size:23.6px;color:#999">55.5%</div>

<!-- tooltip -->
<div class="abs" style="left:345.6px;top:619.7px;width:472.3px;height:106.1px;background:#5a62d8;border-radius:6px"></div>
<svg width="827" height="800" viewBox="0 0 827 800"><path d="M660,725.5 H689 L674.4,740 Z" fill="#5a62d8"/></svg>
<div class="t sx" id="tt1" style="left:370px;top:631px;font-size:29px;color:#fff;transform:scaleX(1.098)">2023.09~2025.09 (2년)</div>
<div class="grp"><span class="t" id="tt2" style="left:371px;top:679.5px;font-size:30px;color:#fff">매매</span> <span class="t sx" id="tt2b" style="left:438px;top:680px;font-size:29px;color:#fff;transform:scaleX(1.17)">+39.38%</span> <span class="t" id="tt3" style="left:590.5px;top:677.5px;font-size:33px;color:#fff">/</span> <span class="t" id="tt4" style="left:620.5px;top:679.5px;font-size:30px;letter-spacing:2.5px;color:#fff">전세</span> <span class="t sx" id="tt5" style="left:686.5px;top:680px;font-size:29px;color:#fff;transform:scaleX(1.065)">+7.07%</span></div>
<div class="abs" style="left:372.5px;top:713px;width:185px;height:11px;background:#fa0014"></div>
<div class="abs" style="left:0;top:0;width:2px;height:1196px;background:#fff"></div>
</body>
</html>
